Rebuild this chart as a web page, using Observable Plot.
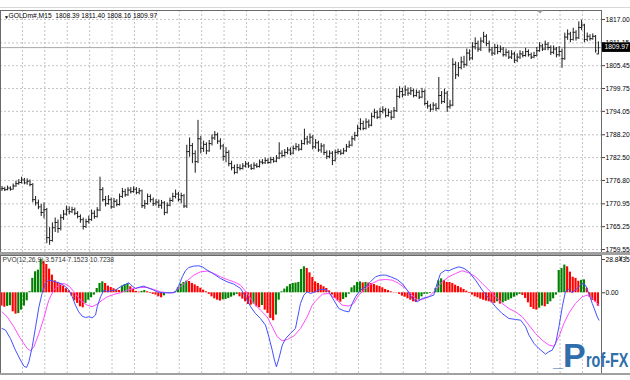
<!DOCTYPE html>
<html><head><meta charset="utf-8">
<script src="https://cdn.jsdelivr.net/npm/d3@7"></script>
<script src="https://cdn.jsdelivr.net/npm/@observablehq/plot@0.6"></script>
<style>
body{margin:0;background:#fff;}
#wrap{position:relative;width:630px;height:380px;overflow:hidden;background:#fff;font-family:"Liberation Sans",Arial,sans-serif;}
#wrap svg{position:absolute;left:0;}
.sep{position:absolute;left:0;width:630px;background:#a0a0a0;}
#logo{position:absolute;left:553px;top:338px;color:#2f6eaa;font-weight:bold;font-family:"Liberation Sans",Arial,sans-serif;white-space:nowrap;line-height:1;}
#logo .rest{display:inline-block;transform:scaleX(0.72);transform-origin:left bottom;}
</style></head><body><div id="wrap"></div>
<script>
// ---------- DATA ----------
const symbolTitle = "GOLDm#,M15\u00a0\u00a01808.39 1811.40 1808.16 1809.97";
const pvoTitle = "PVO(12,26,9) 3.5714 7.1523 10.7238";
const bidPrice = 1809.97;
const priceTicks = [1817.00, 1811.15, 1805.45, 1799.75, 1794.05, 1788.20, 1782.50, 1776.80, 1770.95, 1765.25, 1759.55];
const pvoTicks = [28.8435, 0];
const pvoTickLabels = ["28.8435", "0.00"];

const opens = [1774.4,1774.8,1774.5,1774.9,1774.6,1775.4,1776.0,1776.3,1776.9,1776.2,
1776.6,1775.8,1772.0,1771.2,1770.2,1768.8,1769.5,1762.5,1761.8,1765.0,
1766.3,1764.8,1767.5,1768.4,1769.6,1769.0,1769.5,1768.6,1767.8,1767.0,
1765.3,1766.5,1767.0,1768.6,1767.8,1769.4,1774.5,1772.0,1771.0,1772.0,
1770.2,1771.6,1770.8,1772.8,1774.0,1773.2,1774.4,1774.0,1774.6,1773.8,
1774.2,1770.5,1771.0,1772.8,1772.0,1771.0,1771.4,1770.6,1771.2,1768.8,
1770.6,1771.8,1772.8,1773.4,1772.0,1773.0,1770.4,1784.0,1785.5,1783.5,
1781.5,1787.2,1784.8,1785.8,1784.2,1786.0,1787.4,1788.2,1786.6,1785.4,
1782.8,1783.8,1781.0,1780.0,1778.8,1780.0,1779.8,1780.4,1780.9,1780.4,
1779.8,1780.6,1780.3,1781.4,1781.2,1781.8,1781.3,1782.0,1781.6,1782.4,
1783.6,1783.0,1783.8,1784.4,1783.6,1784.8,1785.2,1784.6,1786.0,1787.2,
1786.4,1787.6,1785.2,1786.2,1784.4,1785.4,1783.8,1782.8,1783.6,1781.8,
1783.8,1784.0,1783.6,1784.2,1785.2,1785.6,1787.2,1788.0,1789.8,1791.0,
1789.8,1791.4,1790.6,1792.8,1793.8,1792.6,1794.0,1794.4,1793.0,1793.8,
1792.6,1794.2,1797.8,1799.0,1798.2,1799.4,1798.6,1799.2,1798.0,1798.8,
1797.6,1799.0,1796.0,1795.4,1794.6,1795.6,1794.8,1798.0,1796.5,1798.6,
1795.2,1795.6,1805.8,1803.2,1805.0,1806.4,1805.8,1808.6,1807.4,1810.2,
1811.0,1809.6,1811.6,1812.8,1811.0,1809.4,1808.6,1810.0,1809.0,1809.6,
1808.2,1808.8,1807.6,1808.4,1806.8,1807.6,1808.4,1808.0,1809.0,1808.2,
1807.6,1808.0,1809.2,1810.4,1809.6,1810.8,1810.0,1808.8,1809.6,1808.2,
1809.0,1807.2,1812.6,1813.4,1812.0,1813.8,1812.4,1815.0,1815.6,1812.0,
1812.8,1812.2,1812.8,1808.39];

const highs = [1775.3,1775.1,1775.4,1775.2,1775.9,1776.6,1777.0,1777.6,1777.3,1777.2,
1776.9,1776.0,1772.8,1771.9,1770.8,1771.2,1769.8,1765.0,1766.2,1767.4,
1766.9,1768.2,1769.3,1770.4,1770.2,1770.1,1769.9,1769.0,1768.2,1767.4,
1767.1,1767.9,1769.4,1769.2,1770.0,1777.6,1775.0,1772.8,1773.0,1772.4,
1772.3,1772.0,1773.4,1774.8,1774.6,1775.0,1775.0,1775.2,1775.0,1774.8,
1774.4,1771.8,1773.4,1773.2,1772.4,1772.0,1771.9,1771.8,1771.5,1771.2,
1772.4,1773.6,1774.4,1773.8,1773.6,1773.3,1785.6,1787.4,1786.0,1784.2,
1791.8,1787.8,1786.6,1786.2,1786.8,1788.2,1789.0,1788.6,1787.2,1785.8,
1785.0,1784.2,1781.6,1780.6,1780.8,1780.7,1781.0,1781.5,1781.3,1780.8,
1781.2,1781.0,1781.9,1782.0,1782.4,1782.2,1782.6,1782.5,1783.0,1786.2,
1784.2,1784.5,1785.0,1784.9,1785.4,1786.0,1785.8,1786.8,1789.6,1787.8,
1788.4,1788.0,1787.0,1786.6,1786.0,1785.8,1784.2,1784.2,1784.0,1784.4,
1784.6,1784.4,1784.8,1785.8,1786.6,1787.8,1788.8,1790.6,1792.2,1791.6,
1792.2,1791.9,1793.6,1794.6,1794.2,1794.8,1795.2,1794.8,1794.6,1794.2,
1795.0,1799.6,1800.2,1799.8,1800.4,1799.9,1800.0,1799.6,1799.4,1799.2,
1799.8,1799.4,1796.6,1795.8,1796.2,1796.0,1802.5,1799.0,1799.6,1799.0,
1796.8,1807.2,1806.4,1806.2,1807.6,1807.8,1809.6,1809.4,1811.2,1812.4,
1811.6,1812.4,1813.8,1813.2,1811.6,1810.0,1810.8,1810.6,1810.4,1810.0,
1809.6,1809.2,1809.2,1808.8,1808.4,1809.2,1809.0,1809.8,1809.4,1808.6,
1808.8,1810.0,1811.2,1810.8,1811.6,1811.2,1810.4,1810.4,1810.0,1810.2,
1809.6,1813.6,1814.4,1813.8,1814.8,1814.2,1816.4,1816.8,1815.8,1813.6,
1813.2,1813.4,1813.0,1811.40];

const lows = [1774.1,1774.0,1774.2,1774.1,1774.4,1775.1,1775.6,1775.9,1775.7,1775.6,
1775.2,1771.2,1770.4,1769.5,1767.8,1767.2,1761.0,1760.6,1761.4,1763.8,
1763.6,1764.2,1766.8,1767.9,1768.2,1768.5,1768.0,1767.2,1766.1,1764.4,
1764.8,1765.9,1766.6,1767.1,1767.4,1769.0,1771.4,1770.2,1770.6,1769.6,
1769.8,1770.2,1770.4,1772.3,1772.6,1772.8,1773.4,1773.6,1773.2,1773.2,
1769.8,1769.6,1770.6,1771.2,1770.3,1770.4,1769.8,1769.6,1768.0,1768.4,
1770.2,1771.3,1772.2,1771.4,1771.0,1769.8,1769.8,1782.6,1781.0,1778.6,
1781.0,1783.4,1783.8,1783.2,1783.8,1785.4,1786.8,1785.8,1784.4,1781.6,
1781.2,1780.2,1779.2,1778.2,1778.4,1779.2,1779.4,1779.9,1779.8,1779.3,
1779.4,1779.8,1779.9,1780.7,1780.8,1780.8,1780.9,1781.1,1781.2,1782.0,
1782.4,1782.6,1783.2,1783.0,1783.2,1784.2,1784.0,1784.2,1785.6,1785.6,
1785.8,1784.4,1784.6,1783.8,1783.6,1783.0,1782.0,1782.2,1780.5,1781.4,
1783.2,1783.0,1783.2,1783.8,1784.8,1785.2,1786.6,1787.6,1789.2,1789.2,
1789.4,1789.8,1790.2,1792.2,1792.0,1792.2,1793.4,1792.4,1792.6,1791.8,
1792.2,1793.8,1797.2,1797.4,1797.8,1797.8,1798.0,1797.4,1797.6,1797.0,
1797.2,1795.4,1794.6,1793.8,1794.2,1794.0,1794.4,1795.8,1796.0,1793.8,
1794.6,1795.2,1802.0,1802.6,1804.4,1804.8,1805.2,1806.6,1806.8,1809.4,
1808.8,1809.0,1811.0,1810.2,1808.6,1807.8,1808.0,1808.2,1808.6,1807.6,
1807.6,1807.0,1807.0,1806.0,1806.2,1807.0,1807.4,1807.6,1807.6,1807.0,
1807.2,1807.6,1808.8,1809.0,1809.2,1809.2,1808.0,1808.2,1807.4,1807.6,
1804.8,1806.8,1811.8,1811.2,1811.6,1811.6,1812.0,1814.2,1811.2,1811.4,
1811.6,1811.8,1808.6,1808.16];

const closes = [1774.8,1774.5,1774.9,1774.6,1775.4,1776.0,1776.3,1776.9,1776.2,1776.6,
1775.8,1772.0,1771.2,1770.2,1768.8,1769.5,1762.5,1761.8,1765.0,1766.3,
1764.8,1767.5,1768.4,1769.6,1769.0,1769.5,1768.6,1767.8,1767.0,1765.3,
1766.5,1767.0,1768.6,1767.8,1769.4,1774.5,1772.0,1771.0,1772.0,1770.2,
1771.6,1770.8,1772.8,1774.0,1773.2,1774.4,1774.0,1774.6,1773.8,1774.2,
1770.5,1771.0,1772.8,1772.0,1771.0,1771.4,1770.6,1771.2,1768.8,1770.6,
1771.8,1772.8,1773.4,1772.0,1773.0,1770.4,1784.0,1785.5,1783.5,1781.5,
1787.2,1784.8,1785.8,1784.2,1786.0,1787.4,1788.2,1786.6,1785.4,1782.8,
1783.8,1781.0,1780.0,1778.8,1780.0,1779.8,1780.4,1780.9,1780.4,1779.8,
1780.6,1780.3,1781.4,1781.2,1781.8,1781.3,1782.0,1781.6,1782.4,1783.6,
1783.0,1783.8,1784.4,1783.6,1784.8,1785.2,1784.6,1786.0,1787.2,1786.4,
1787.6,1785.2,1786.2,1784.4,1785.4,1783.8,1782.8,1783.6,1781.8,1783.8,
1784.0,1783.6,1784.2,1785.2,1785.6,1787.2,1788.0,1789.8,1791.0,1789.8,
1791.4,1790.6,1792.8,1793.8,1792.6,1794.0,1794.4,1793.0,1793.8,1792.6,
1794.2,1797.8,1799.0,1798.2,1799.4,1798.6,1799.2,1798.0,1798.8,1797.6,
1799.0,1796.0,1795.4,1794.6,1795.6,1794.8,1798.0,1796.5,1798.6,1795.2,
1795.6,1805.8,1803.2,1805.0,1806.4,1805.8,1808.6,1807.4,1810.2,1811.0,
1809.6,1811.6,1812.8,1811.0,1809.4,1808.6,1810.0,1809.0,1809.6,1808.2,
1808.8,1807.6,1808.4,1806.8,1807.6,1808.4,1808.0,1809.0,1808.2,1807.6,
1808.0,1809.2,1810.4,1809.6,1810.8,1810.0,1808.8,1809.6,1808.2,1809.0,
1807.2,1812.6,1813.4,1812.0,1813.8,1812.4,1815.0,1815.6,1812.0,1812.8,
1812.2,1812.8,1809.2,1809.97];

const histValues = [-11.5,-12.5,-11.8,-11.2,-16.5,-18.5,-18.0,-15.0,-11.5,-7.0,
1.0,12.5,18.2,19.6,28.84,27.0,24.5,20.5,15.3,10.4,
9.0,8.0,5.8,3.5,1.7,-2.9,-6.9,-9.2,-12.1,-13.0,
-9.2,-6.4,-4.3,-2.0,3.75,8.1,9.5,8.1,5.8,4.6,
3.5,2.6,2.0,5.8,7.2,8.1,5.2,2.9,1.2,0.6,
1.2,2.0,0.9,-0.6,-1.4,-2.0,-3.5,-4.3,-2.6,-0.6,
-0.3,0.3,0.9,4.3,7.5,9.0,10.1,9.8,8.1,6.9,
5.5,4.0,2.3,0.9,-1.4,-3.5,-5.2,-6.4,-7.2,-6.1,
-5.8,-4.9,-3.8,-2.6,-1.4,-3.5,-5.5,-7.8,-10.1,-10.7,
-9.8,-12.1,-13.0,-11.0,-15.0,-17.9,-22.2,-24.2,-19.3,-6.4,
0.9,3.2,5.2,7.2,8.1,8.4,9.0,20.2,22.5,21.1,
17.3,13.3,9.5,8.1,6.6,5.2,3.75,1.7,-2.0,-4.9,
-6.9,-8.1,-5.8,-4.3,-1.2,4.3,6.1,9.0,9.4,8.6,
9.0,8.4,8.0,7.2,6.1,5.5,4.3,2.9,2.0,0.9,
0.3,-0.3,-1.4,-2.9,-3.8,-5.2,-6.4,-7.8,-8.4,-6.4,
-3.5,-1.4,-1.2,-0.6,-0.2,3.75,10.4,12.1,10.7,9.0,
8.9,8.1,6.6,5.5,4.3,2.9,1.4,-0.6,-2.0,-3.5,
-4.3,-5.5,-6.4,-7.2,-7.8,-8.7,-9.2,-7.8,-9.8,-8.7,
-7.5,-6.4,-5.2,-3.8,-2.6,-1.4,-2.3,-4.9,-8.7,-12.7,
-14.4,-15.0,-13.3,-11.5,-12.1,-10.1,-7.8,-5.2,-2.0,19.3,
21.0,24.0,22.5,17.9,13.5,12.5,10.0,10.8,11.2,4.0,
-3.8,-6.7,-8.1,-11.6];

// PVO main line (blue), read at bar positions
const pvoIdx = [0,1.25,3.0,4.8,6.6,7.8,8.75,9.6,10.8,12.0,
13.2,14.3,15.5,16.7,17.9,19.1,20.3,21.5,22.7,23.9,
25.1,26.2,27.4,28.6,29.8,31.0,32.2,33.4,34.0,35.2,
36.4,37.6,38.75,40.5,42.3,44.1,45.3,46.5,47.7,49.5,
50.7,51.8,53.6,55.4,57.2,59.0,60.8,62.0,63.2,64.4,
65.5,66.7,68.5,70.3,71.5,73.3,75.7,78.0,80.4,82.8,
85.2,87.0,88.8,90.5,92.3,94.1,95.3,96.5,97.3,98.0,
98.9,100.1,101.3,103.0,104.8,106.6,107.8,109.0,110.2,112.0,
113.75,115.5,116.7,118.5,120.3,122.1,123.9,125.1,126.25,128.0,
129.8,131.6,133.4,135.2,137.0,138.75,141.1,142.9,144.7,146.5,
148.3,150.1,152.4,154.2,155.4,156.6,158.4,159.6,161.4,163.2,
165.0,166.7,169.1,171.5,173.9,176.25,178.6,181.0,183.4,185.2,
187.0,188.2,190.0,191.7,194.1,195.3,196.5,197.7,198.9,200.1,
201.2,202.4,203.6,205.4,207.2,208.4,209.6,210.8,212.6,213.2];
const pvoVals = [-30.9,-32.3,-39.6,-49.7,-58.3,-63.5,-64.7,-59.8,-46.8,-29.4,
-12.1,-0.6,8.1,11.0,10.4,9.5,8.7,7.5,5.2,2.3,
-3.5,-10.7,-16.5,-20.2,-21.4,-20.8,-21.7,-19.3,-12.1,-3.5,
2.3,0.9,1.7,2.3,5.2,7.2,8.7,5.8,3.75,5.2,
5.8,4.6,2.9,0.9,0,0,0,0.9,6.6,13.9,
19.1,21.9,23.1,23.4,22.5,19.6,16.2,12.4,9.5,7.5,
3.75,-3.5,-12.1,-17.9,-22.2,-28.0,-38.1,-49.7,-58.3,-64.1,
-56.9,-45.3,-39.6,-35.2,-30.9,-9.2,-2.0,0.9,-0.6,1.0,
2.9,2.9,0.9,-6.4,-13.6,-15.6,-16.5,-9.2,-3.5,2.3,
5.2,9.5,13.9,15.3,15.3,13.9,11.5,8.1,2.3,-4.9,
-7.8,-4.9,-3.5,-2.0,8.1,16.7,19.6,19.1,21.1,22.5,
21.1,18.2,11.0,2.3,-4.9,-12.1,-17.9,-22.2,-23.1,-23.7,
-29.4,-36.7,-43.9,-48.2,-53.1,-51.1,-49.7,-43.9,-29.4,-12.1,
0.9,2.9,0,3.75,8.1,6.6,-0.6,-9.2,-20.8,-23.7];

// Signal line (magenta)
const sigIdx = [0,1.85,4.2,6.6,9.0,10.2,11.4,13.2,14.9,16.7,
18.5,20.3,22.1,23.9,25.7,28.0,30.4,32.2,34.0,35.8,
37.6,39.9,42.3,44.7,47.1,49.5,51.8,54.2,56.6,59.0,
61.4,63.75,66.1,68.5,70.9,73.3,75.7,78.0,80.4,82.8,
85.2,87.6,90.0,92.3,94.7,96.5,98.3,100.1,101.9,104.2,
106.6,109.0,110.8,112.0,
114.4,116.7,119.1,121.5,123.9,125.6,127.4,129.8,132.2,134.6,
137.0,139.3,141.7,144.1,146.5,148.3,150.1,152.4,154.8,157.2,
159.6,162.0,164.3,166.7,169.1,171.5,173.9,176.25,178.6,181.0,
183.4,185.8,188.2,190.5,192.9,195.3,197.1,198.9,200.65,202.4,
204.8,207.2,209.0,210.8,213.2];
const sigVals = [-16.5,-20.8,-29.4,-39.6,-48.2,-50.2,-46.8,-35.2,-22.2,-6.4,
2.3,6.6,8.1,5.8,0.9,-6.4,-10.7,-12.1,-9.8,-6.4,
-3.5,-1.4,0,2.3,3.75,4.6,4.6,2.9,0.9,0,
0,5.2,10.4,15.3,18.2,18.8,16.7,13.9,11.5,9.5,
6.6,-0.6,-9.2,-15.0,-20.8,-29.4,-38.1,-41.6,-40.4,-37.5,
-30.9,-20.8,-10.7,-7.0,
-1.2,-0.6,-4.9,-10.7,-11.5,-9.2,-2.0,3.75,8.1,11.0,
11.5,11.0,8.1,3.75,-2.0,-6.4,-5.8,-3.5,2.3,9.5,
13.9,16.7,19.1,17.3,13.9,8.1,2.3,-3.5,-9.2,-13.6,
-16.5,-20.8,-28.0,-35.2,-41.0,-45.3,-46.2,-38.1,-26.6,-17.9,
-9.2,-3.5,-2.0,-4.9,-10.7];

// ---------- BUILD ----------
const bars = closes.map((c, i) => ({i, o: opens[i], h: highs[i], l: lows[i], c}));
const hist = histValues.map((v, i) => ({i, v, fill: (i > 0 && v > histValues[i - 1]) ? "#008000" : "#ff0000"}));
const pvo = pvoIdx.map((i, k) => ({i, v: pvoVals[k]}));
const sig = sigIdx.map((i, k) => ({i, v: sigVals[k]}));
const gridIdx = d3.range(7.3, 214, 8);
const xDomain = [-0.536, 214.1];
const grid = {stroke: "#c4c4c4", strokeDasharray: "2,2"};
const font = "'Liberation Sans', Arial, sans-serif";

const wrap = document.getElementById("wrap");

const p1 = Plot.plot({
  width: 630, height: 255,
  marginTop: 10, marginBottom: 3, marginLeft: 0, marginRight: 29,
  x: {domain: xDomain, axis: null},
  y: {domain: [1758.8, 1819.24], axis: null},
  style: {background: "transparent", fontFamily: font, fontSize: "6.7px", color: "#000", overflow: "visible"},
  marks: [
    Plot.ruleY(priceTicks, grid),
    Plot.ruleX(gridIdx, grid),
    Plot.ruleY([bidPrice], {stroke: "#a8a8a8"}),
    Plot.ruleX(bars, {x: "i", y1: "l", y2: "h", stroke: "#1a1a1a", strokeWidth: 1}),
    Plot.ruleY(bars, {y: "o", x1: d => d.i - 0.5, x2: "i", stroke: "#1a1a1a"}),
    Plot.ruleY(bars, {y: "c", x1: "i", x2: d => d.i + 0.5, stroke: "#1a1a1a"}),
    Plot.frame({stroke: "#6a6a6a"}),
    Plot.axisY(priceTicks, {anchor: "right", tickSize: 3, tickPadding: 1, tickFormat: d => d.toFixed(2), stroke: "#444"}),
    Plot.text(["\u25BC"], {frameAnchor: "top-left", dx: 3.5, dy: 5, fontSize: 5, fill: "#000"}),
    Plot.text([symbolTitle], {frameAnchor: "top-left", dx: 8, dy: 5, textAnchor: "start", lineAnchor: "middle", fill: "#000"})
  ]
});
p1.style.top = "0px";
wrap.appendChild(p1);

// current price label (positioned via the plot's y scale)
const yS = p1.scale("y");
const yb = yS.apply(bidPrice);
const s1 = d3.select(p1);
s1.append("rect").attr("x", 602).attr("y", yb - 4.8).attr("width", 28).attr("height", 9.6).attr("fill", "#000");
s1.append("text").attr("x", 604.5).attr("y", yb).attr("dy", "0.35em").attr("fill", "#fff")
  .attr("text-anchor", "start").attr("font-size", "6.7px").text(bidPrice.toFixed(2));
// chart-shift marker
s1.append("path").attr("d", "M537,10.5 L543,10.5 L540,13.5 Z").attr("fill", "#a0a0a0");
// top thin line
s1.append("line").attr("x1", 0).attr("x2", 630).attr("y1", 7.5).attr("y2", 7.5).attr("stroke", "#d8d8d8");

const p2 = Plot.plot({
  width: 630, height: 128,
  marginTop: 3, marginBottom: 7, marginLeft: 0, marginRight: 29,
  x: {domain: xDomain, axis: null},
  y: {domain: [-69.9, 32.3], axis: null},
  color: {type: "identity"},
  style: {background: "transparent", fontFamily: font, fontSize: "6.7px", color: "#000", overflow: "visible"},
  marks: [
    Plot.ruleX(gridIdx, grid),
    Plot.rect(hist, {x1: d => d.i - 0.38, x2: d => d.i + 0.38, y1: 0, y2: "v", fill: "fill"}),
    Plot.line(sig, {x: "i", y: "v", stroke: "#ff4cff", strokeWidth: 1}),
    Plot.line(pvo, {x: "i", y: "v", stroke: "#4450ff", strokeWidth: 1}),
    Plot.frame({stroke: "#6a6a6a"}),
    Plot.axisY(pvoTicks, {anchor: "right", tickSize: 3, tickPadding: 1, tickFormat: (d, k) => pvoTickLabels[k], stroke: "#444"}),
    Plot.text([pvoTitle], {frameAnchor: "top-left", dx: 2, dy: 4, textAnchor: "start", lineAnchor: "middle", fill: "#333"})
  ]
});
p2.style.top = "252px";
wrap.appendChild(p2);

// panel separator and bottom border
const sep = document.createElement("div");
sep.className = "sep"; sep.style.top = "252px"; sep.style.height = "3px";
wrap.appendChild(sep);
const bot = document.createElement("div");
bot.className = "sep"; bot.style.top = "373px"; bot.style.height = "2px";
wrap.appendChild(bot);

// logo
const logo = document.createElement("div");
logo.id = "logo";
logo.innerHTML = '<span style="font-size:18px">_</span><span style="font-size:34px">P</span><span class="rest" style="font-size:20px">rof-FX</span>';
wrap.appendChild(logo);
</script>
</body></html>
